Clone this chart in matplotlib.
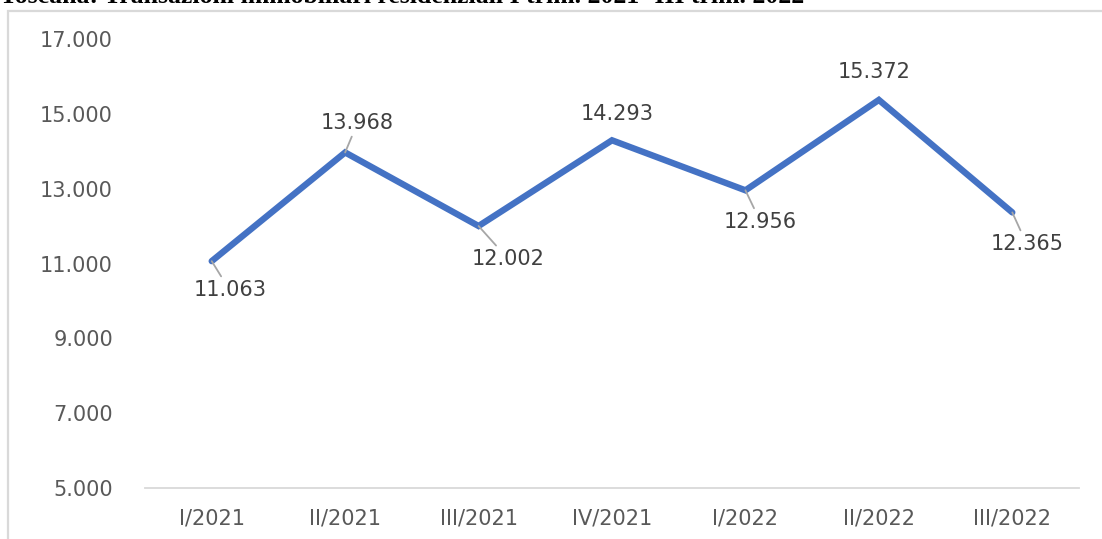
import matplotlib
matplotlib.use("Agg")
import matplotlib.pyplot as plt
from matplotlib.patches import Rectangle

# dati
trimestri = ["I/2021", "II/2021", "III/2021", "IV/2021", "I/2022", "II/2022", "III/2022"]
transazioni = [11063, 13968, 12002, 14293, 12956, 15372, 12365]
etichette = ["11.063", "13.968", "12.002", "14.293", "12.956", "15.372", "12.365"]
yticks = [5000, 7000, 9000, 11000, 13000, 15000, 17000]
ytick_labels = ["5.000", "7.000", "9.000", "11.000", "13.000", "15.000", "17.000"]
titolo = "Toscana: Transazioni immobiliari residenziali I trim. 2021- III trim. 2022"

# offset etichette (punti) e presenza linea di richiamo
offsets = [(13, -21), (9, 21.5), (21.5, -24), (3.5, 19), (11, -23), (-3.5, 20), (10.5, -23)]
leader = [True, True, True, False, True, False, True]

fig = plt.figure(figsize=(11.02, 5.39), dpi=100)
ax = fig.add_axes([145 / 1102, 1 - 488 / 539, (1079 - 145) / 1102, (488 - 39) / 539])

x = list(range(len(trimestri)))
ax.plot(x, transazioni, color="#4472C4", lw=4.6, solid_capstyle="round", solid_joinstyle="miter")

for xi, yi, lab, off, ld in zip(x, transazioni, etichette, offsets, leader):
    props = dict(arrowstyle="-", color="#A6A6A6", lw=1.3, shrinkA=1, shrinkB=0) if ld else None
    ax.annotate(lab, xy=(xi, yi), xytext=off, textcoords="offset points",
                ha="center", va="center", fontsize=15, color="#404040",
                arrowprops=props)

ax.set_xlim(-0.5, len(trimestri) - 0.5)
ax.set_ylim(5000, 17000)
ax.set_yticks(yticks)
ax.set_yticklabels(ytick_labels)
ax.set_xticks(x)
ax.set_xticklabels(trimestri)
ax.tick_params(axis="y", length=0, pad=23, labelsize=15, labelcolor="#595959")
ax.tick_params(axis="x", length=0, pad=15, labelsize=15, labelcolor="#595959")
for s in ["top", "right", "left"]:
    ax.spines[s].set_visible(False)
ax.spines["bottom"].set_color("#D9D9D9")
ax.spines["bottom"].set_linewidth(1.3)

# bordo del grafico
fig.patches.append(Rectangle((8 / 1102, -0.05), 1.1, 1 - 11 / 539 + 0.05,
                             transform=fig.transFigure, fill=False,
                             edgecolor="#D9D9D9", lw=1.6))

# titolo (tagliato in alto come nell'originale)
fig.text(0.0, 1 - 3 / 539, titolo, family="Liberation Serif", weight="bold",
         fontsize=18.5, color="black", ha="left", va="baseline")

fig.savefig("out.png", dpi=100)
